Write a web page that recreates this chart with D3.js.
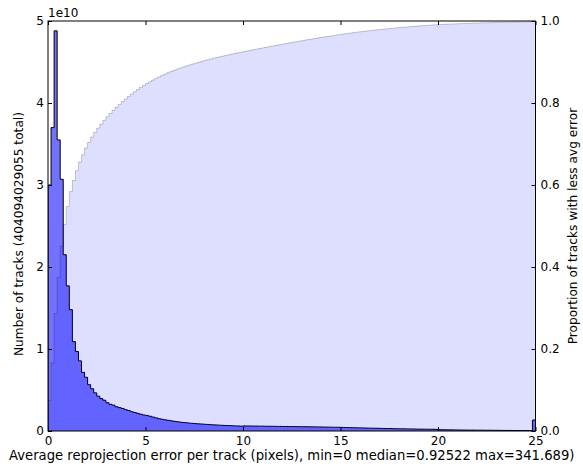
<!DOCTYPE html>
<html>
<head>
<meta charset="utf-8">
<script src="https://cdnjs.cloudflare.com/ajax/libs/d3/7.8.5/d3.min.js"></script>
<style>
  body { margin: 0; background: #fff; }
  svg { display: block; font-family: "DejaVu Sans", sans-serif; }
</style>
</head>
<body>
<svg id="chart" width="583" height="467"></svg>
<script>
// histogram counts per bin, in units of 1e10 (160 bins over 0..25 px error, last bin holds the overflow)
var countsE10 = [
  3.0, 3.7, 4.88, 3.55, 3.07, 2.15, 1.77, 1.48, 1.09, 0.97,
  0.855, 0.715, 0.655, 0.565, 0.515, 0.465, 0.425, 0.395, 0.375, 0.345,
  0.325, 0.315, 0.295, 0.285, 0.275, 0.26, 0.25, 0.235, 0.225, 0.215,
  0.205, 0.195, 0.19,
  0.18, 0.17, 0.16, 0.15, 0.143, 0.136, 0.13, 0.124, 0.118, 0.113,
  0.108, 0.104, 0.10, 0.096, 0.093,
  0.090, 0.087, 0.085, 0.082, 0.080, 0.077, 0.075, 0.073, 0.071, 0.069,
  0.067, 0.066, 0.064, 0.062, 0.061, 0.059,
  0.062, 0.061, 0.061, 0.060, 0.060, 0.059, 0.059, 0.058, 0.058, 0.057,
  0.057, 0.056, 0.056, 0.055, 0.055, 0.054, 0.054, 0.053, 0.053, 0.052,
  0.052, 0.051, 0.051, 0.050, 0.050, 0.049, 0.048, 0.048, 0.047, 0.046,
  0.046, 0.045,
  0.044, 0.043, 0.042, 0.041, 0.040, 0.039, 0.038, 0.037, 0.036, 0.035,
  0.034, 0.034, 0.033, 0.032, 0.031, 0.030, 0.030, 0.029, 0.028, 0.027,
  0.027, 0.026, 0.025, 0.025, 0.024, 0.023, 0.023, 0.022, 0.022, 0.021,
  0.021, 0.020,
  0.016, 0.015, 0.015, 0.014, 0.014, 0.013, 0.013, 0.012, 0.012, 0.011,
  0.011, 0.011, 0.010, 0.010, 0.010, 0.009, 0.009, 0.009, 0.008, 0.008,
  0.008, 0.007, 0.007, 0.007, 0.006, 0.006, 0.006, 0.006, 0.005, 0.005,
  0.005,
  0.134
];
var xRange = [0, 25];
var xTicks = [0, 5, 10, 15, 20, 25];
var yTicks = [0, 1, 2, 3, 4, 5];
var y2Ticks = [0, 0.2, 0.4, 0.6, 0.8, 1.0];
var totalTracks = "404094029055";
var xLabel = "Average reprojection error per track (pixels), min=0 median=0.92522 max=341.689)";
var yLabel = "Number of tracks (" + totalTracks + " total)";
var y2Label = "Proportion of tracks with less avg error";

var svg = d3.select("#chart");
var pLeft = 48, pRight = 535.5, pTop = 21, pBottom = 431;

var x = d3.scaleLinear().domain(xRange).range([pLeft, pRight]);
var y = d3.scaleLinear().domain([0, 5]).range([pBottom, pTop]);
var y2 = d3.scaleLinear().domain([0, 1]).range([pBottom, pTop]);

var binW = (xRange[1] - xRange[0]) / countsE10.length;
var total = +totalTracks / 1e10;
var cumul = Array.from(d3.cumsum(countsE10), function(d){ return Math.min(1, d / total); });

// step outline through every bin: [x, value]
function stepPoints(vals){
  var pts = [[0, 0]];
  vals.forEach(function(v, i){
    pts.push([i * binW, v]);
    pts.push([(i + 1) * binW, v]);
  });
  pts.push([xRange[1], 0]);
  return pts;
}

svg.append("defs").append("clipPath").attr("id", "plot")
   .append("rect").attr("x", pLeft).attr("y", pTop)
   .attr("width", pRight - pLeft).attr("height", pBottom - pTop);

var g = svg.append("g").attr("clip-path", "url(#plot)");

var histLine = d3.line().x(function(d){ return x(d[0]); }).y(function(d){ return y(d[1]); });
var cumLine = d3.line().x(function(d){ return x(d[0]); }).y(function(d){ return y2(d[1]); });

g.append("path")
 .attr("d", histLine(stepPoints(countsE10)))
 .style("fill", "#7272ff")
 .style("stroke", "#000")
 .style("stroke-width", 1);

g.append("path")
 .attr("d", cumLine(stepPoints(cumul)))
 .style("fill", "rgba(0,0,255,0.13)")
 .style("stroke", "rgba(0,0,0,0.2)")
 .style("stroke-width", 1);

// frame
svg.append("rect")
   .attr("x", pLeft).attr("y", pTop)
   .attr("width", pRight - pLeft).attr("height", pBottom - pTop)
   .style("fill", "none").style("stroke", "#000").style("stroke-width", 1);

var tickLen = 4;
var tickFont = "12px";
var labelFont = "13.2px";
var sideFont = "12.2px";

// x axis (bottom) with inward ticks, plus top ticks
var xAxis = d3.axisBottom(x).tickValues(xTicks).tickSizeInner(-tickLen).tickSizeOuter(0).tickPadding(5);
var gx = svg.append("g").attr("transform", "translate(0," + pBottom + ")").call(xAxis);
var xTop = d3.axisTop(x).tickValues(xTicks).tickSizeInner(-tickLen).tickSizeOuter(0).tickFormat("");
var gxt = svg.append("g").attr("transform", "translate(0," + pTop + ")").call(xTop);

var yAxis = d3.axisLeft(y).tickValues(yTicks).tickSizeInner(-tickLen).tickSizeOuter(0).tickPadding(4).tickFormat(d3.format("d"));
var gy = svg.append("g").attr("transform", "translate(" + pLeft + ",0)").call(yAxis);

var y2Axis = d3.axisRight(y2).tickValues(y2Ticks).tickSizeInner(-tickLen).tickSizeOuter(0).tickPadding(5).tickFormat(d3.format(".1f"));
var gy2 = svg.append("g").attr("transform", "translate(" + pRight + ",0)").call(y2Axis);

[gx, gxt, gy, gy2].forEach(function(a){
  a.select(".domain").remove();
  a.selectAll("line").style("stroke", "#000");
  a.selectAll("text").style("font-size", tickFont).style("font-family", "DejaVu Sans").style("fill", "#000");
});

svg.append("text")
   .attr("x", pLeft).attr("y", 17)
   .style("font-size", tickFont)
   .text("1e10");

svg.append("text")
   .attr("x", (pLeft + pRight) / 2).attr("y", 460)
   .attr("text-anchor", "middle")
   .style("font-size", labelFont)
   .text(xLabel);

svg.append("text")
   .attr("transform", "translate(23," + ((pTop + pBottom) / 2 + 8) + ") rotate(-90)")
   .attr("text-anchor", "middle")
   .style("font-size", sideFont)
   .text(yLabel);

svg.append("text")
   .attr("transform", "translate(577," + ((pTop + pBottom) / 2) + ") rotate(-90)")
   .attr("text-anchor", "middle")
   .style("font-size", sideFont)
   .text(y2Label);
</script>
</body>
</html>
